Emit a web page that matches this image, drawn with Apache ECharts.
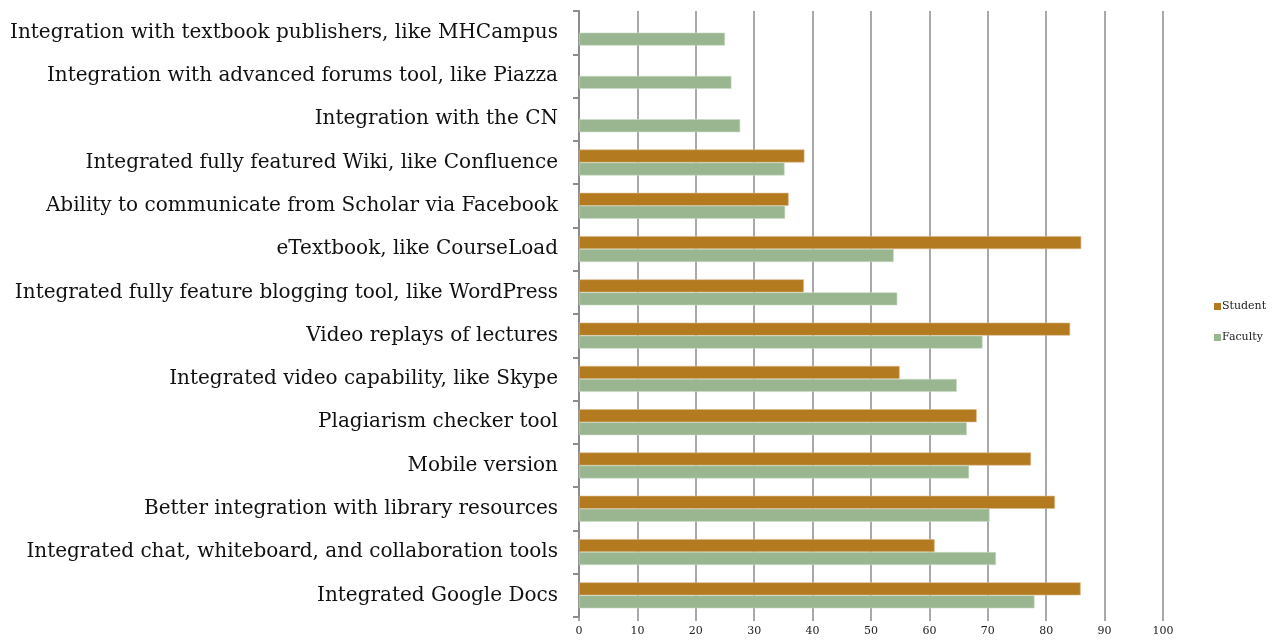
<!DOCTYPE html>
<html>
<head>
<meta charset="utf-8">
<script src="https://cdn.jsdelivr.net/npm/echarts@6/dist/echarts.min.js"></script>
<style>
  html, body { margin: 0; padding: 0; background: #fff; }
  #chart { width: 1276px; height: 641px; }
</style>
</head>
<body>
<div id="chart"></div>
<script>
// categories listed top to bottom
const categories = [
  "Integration with textbook publishers, like MHCampus",
  "Integration with advanced forums tool, like Piazza",
  "Integration with the CN",
  "Integrated fully featured Wiki, like Confluence",
  "Ability to communicate from Scholar via Facebook",
  "eTextbook, like CourseLoad",
  "Integrated fully feature blogging tool, like WordPress",
  "Video replays of lectures",
  "Integrated video capability, like Skype",
  "Plagiarism checker tool",
  "Mobile version",
  "Better integration with library resources",
  "Integrated chat, whiteboard, and collaboration tools",
  "Integrated Google Docs"
];
const studentValues = [null, null, null, 38.6, 35.9, 86.0, 38.5, 84.1, 54.9, 68.1, 77.4, 81.5, 60.9, 85.9];
const facultyValues = [25.0, 26.1, 27.6, 35.2, 35.3, 53.9, 54.5, 69.1, 64.7, 66.4, 66.8, 70.3, 71.4, 78.0];
const xTicks = [0, 10, 20, 30, 40, 50, 60, 70, 80, 90, 100];

const serif = "'DejaVu Serif', 'Liberation Serif', serif";
const gridGray = "#8c8c8c";

const myChart = echarts.init(document.getElementById("chart"));
const option = {
  animation: false,
  textStyle: { fontFamily: serif },
  grid: {
    left: 579,
    top: 11,
    width: 584,
    height: 606
  },
  legend: {
    orient: "vertical",
    left: 1209,
    top: 296,
    itemWidth: 7,
    itemHeight: 7,
    itemGap: 20,
    icon: "rect",
    itemStyle: { borderWidth: 0 },
    textStyle: { fontFamily: serif, fontSize: 11, color: "#222", padding: [0, 0, 0, -4] },
    data: ["Student", "Faculty"]
  },
  xAxis: {
    type: "value",
    min: xTicks[0],
    max: xTicks[xTicks.length - 1],
    interval: 10,
    axisLine: { show: false },
    axisTick: { show: true, length: 4, lineStyle: { color: gridGray, width: 1.5 } },
    splitLine: { show: true, lineStyle: { color: gridGray, width: 1.5 } },
    axisLabel: { fontFamily: serif, fontSize: 11, color: "#222", margin: 9 }
  },
  yAxis: {
    type: "category",
    inverse: true,
    data: categories,
    axisLine: { show: true, lineStyle: { color: gridGray, width: 2 } },
    axisTick: { show: true, length: 6, lineStyle: { color: gridGray, width: 2 } },
    axisLabel: { fontFamily: serif, fontSize: 20, color: "#111", margin: 21 }
  },
  series: [
    {
      name: "Student",
      type: "bar",
      data: studentValues,
      barGap: "0%",
      barCategoryGap: "40%",
      itemStyle: { color: "#b47a20", borderColor: "#d9b98a", borderWidth: 0.6 }
    },
    {
      name: "Faculty",
      type: "bar",
      data: facultyValues,
      itemStyle: { color: "#99b690", borderColor: "#c9dac3", borderWidth: 0.6 }
    }
  ]
};
myChart.setOption(option);
</script>
</body>
</html>
